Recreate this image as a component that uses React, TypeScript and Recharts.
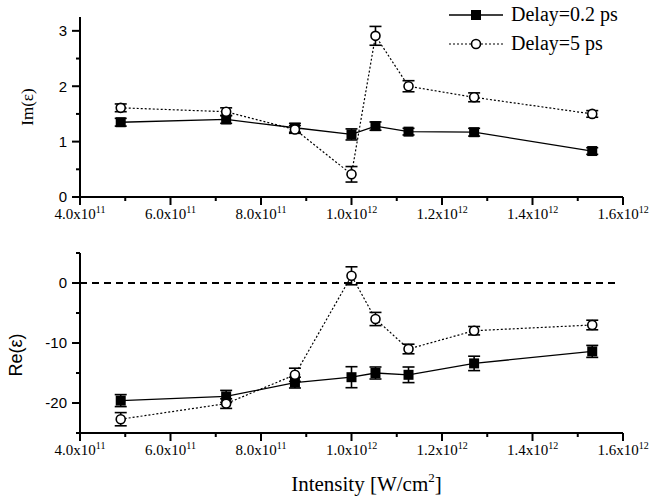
import {
  LineChart,
  Line,
  XAxis,
  YAxis,
  ErrorBar,
  ReferenceLine,
  Legend,
} from 'recharts'

const intensity = [4.9e11, 7.23e11, 8.75e11, 1.0e12, 1.053e12, 1.126e12, 1.271e12, 1.532e12]

const imShort = [1.35, 1.4, 1.25, 1.13, 1.28, 1.18, 1.17, 0.83]
const imShortErr = [0.07, 0.07, 0.08, 0.1, 0.075, 0.06, 0.07, 0.06]
const imLong = [1.61, 1.54, 1.22, 0.41, 2.91, 2.0, 1.8, 1.5]
const imLongErr = [0.07, 0.07, 0.07, 0.14, 0.17, 0.1, 0.08, 0.06]

const reShort = [-19.6, -18.9, -16.6, -15.7, -15.0, -15.3, -13.4, -11.4]
const reShortErr = [1.0, 1.0, 0.9, 1.75, 1.0, 1.3, 1.2, 1.0]
const reLong = [-22.7, -20.1, -15.3, 1.2, -6.0, -11.0, -7.95, -7.0]
const reLongErr = [1.1, 0.8, 1.1, 1.5, 1.1, 0.8, 0.7, 0.8]

const xTicks = [4e11, 5e11, 6e11, 7e11, 8e11, 9e11, 1e12, 1.1e12, 1.2e12, 1.3e12, 1.4e12, 1.5e12, 1.6e12]
const imTicks = [0, 0.5, 1, 1.5, 2, 2.5, 3]
const reTicks = [-25, -20, -15, -10, -5, 0, 5]

const legendItems = ['Delay=0.2 ps', 'Delay=5 ps']

// zero line in the Re panel stops a little short of the axis end
const zeroLineEnd = 1.587e12

const imData = intensity.map((x, i) => ({
  x,
  short: imShort[i],
  shortErr: imShortErr[i],
  long: imLong[i],
  longErr: imLongErr[i],
}))

const reData = intensity.map((x, i) => ({
  x,
  short: reShort[i],
  shortErr: reShortErr[i],
  long: reLong[i],
  longErr: reLongErr[i],
}))

const SERIF = '"Liberation Serif", "Times New Roman", serif'
const SANS = '"Liberation Sans", Arial, sans-serif'

function XTick(props: any) {
  const { x, y, payload } = props
  const v = payload.value as number
  const major = Math.round(v / 1e11) % 2 === 0
  const exp = Math.floor(Math.log10(v) + 1e-9)
  const mant = (v / Math.pow(10, exp)).toFixed(1)
  return (
    <g>
      <line x1={x} y1={y} x2={x} y2={y + (major ? 8 : 4)} stroke="#000" strokeWidth={2} />
      {major && (
        <text x={x} y={y + 22} textAnchor="middle" fontFamily={SERIF} fontSize={15} fill="#000">
          {mant}x10
          <tspan dy={-6} fontSize={10}>
            {exp}
          </tspan>
        </text>
      )}
    </g>
  )
}

function makeYTick(step: number) {
  return function YTick(props: any) {
    const { x, y, payload } = props
    const v = payload.value as number
    const major = Math.abs(v / step - Math.round(v / step)) < 1e-6
    return (
      <g>
        <line x1={x} y1={y} x2={x - (major ? 8 : 4)} y2={y} stroke="#000" strokeWidth={2} />
        {major && (
          <text x={x - 13} y={y} dy="0.36em" textAnchor="end" fontFamily={SANS} fontSize={15} fill="#000">
            {v}
          </text>
        )}
      </g>
    )
  }
}

const ImTick = makeYTick(1)
const ReTick = makeYTick(10)

function SquareDot(props: any) {
  const { cx, cy, index } = props
  if (cx == null || cy == null) return <g key={`s-${index}`} />
  return <rect key={`s-${index}`} x={cx - 5} y={cy - 5} width={10} height={10} fill="#000" />
}

function CircleDot(props: any) {
  const { cx, cy, index } = props
  if (cx == null || cy == null) return <g key={`c-${index}`} />
  return <circle key={`c-${index}`} cx={cx} cy={cy} r={4.5} fill="#fff" stroke="#000" strokeWidth={1.6} />
}

function YLabel(props: any) {
  const { viewBox, text, font, size, dx = 0, dy = 0 } = props
  const cx = viewBox.x + dx
  const cy = viewBox.y + viewBox.height / 2 + dy
  return (
    <text
      x={cx}
      y={cy}
      transform={`rotate(-90, ${cx}, ${cy})`}
      textAnchor="middle"
      dominantBaseline="central"
      fontFamily={font}
      fontSize={size}
      fill="#000"
    >
      {text}
    </text>
  )
}

function XLabel(props: any) {
  const { viewBox } = props
  const cx = viewBox.x + viewBox.width / 2 + 15
  const by = viewBox.y + 58
  return (
    <text x={cx} y={by} textAnchor="middle" fontFamily={SERIF} fontSize={21} fill="#000">
      Intensity [W/cm
      <tspan dy={-9} fontSize={13}>
        2
      </tspan>
      <tspan dy={9}>]</tspan>
    </text>
  )
}

function LegendBox() {
  return (
    <div style={{ fontFamily: SERIF, fontSize: 20, color: '#000' }}>
      {legendItems.map((name, i) => (
        <div key={name} style={{ display: 'flex', alignItems: 'center', height: 29 }}>
          <svg width={56} height={14} style={{ marginRight: 7 }}>
            <line
              x1={1}
              y1={7}
              x2={55}
              y2={7}
              stroke="#000"
              strokeWidth={i === 0 ? 1.3 : 1.2}
              strokeDasharray={i === 0 ? undefined : '2 2'}
            />
            {i === 0 ? (
              <rect x={23} y={2} width={10} height={10} fill="#000" />
            ) : (
              <circle cx={28} cy={7} r={4.5} fill="#fff" stroke="#000" strokeWidth={1.6} />
            )}
          </svg>
          <span>{name}</span>
        </div>
      ))}
    </div>
  )
}

const axisLine = { stroke: '#000', strokeWidth: 2 }

export default function App() {
  return (
    <div style={{ width: 649, height: 499, background: '#fff', position: 'relative' }}>
      <style>{'body{margin:0}'}</style>
      <LineChart width={649} height={230} data={imData} margin={{ top: 17, right: 26, bottom: 0, left: 0 }}>
        <XAxis
          dataKey="x"
          type="number"
          domain={[4e11, 1.6e12]}
          ticks={xTicks}
          interval={0}
          height={33}
          axisLine={axisLine}
          tickLine={false}
          tickSize={0}
          tickMargin={0}
          tick={<XTick />}
          allowDataOverflow
        />
        <YAxis
          type="number"
          domain={[0, 3.25]}
          ticks={imTicks}
          interval={0}
          width={80}
          axisLine={axisLine}
          tickLine={false}
          tickSize={0}
          tickMargin={0}
          tick={<ImTick />}
          allowDataOverflow
          label={<YLabel text="Im(ε)" font={SERIF} size={17} dx={27} dy={0} />}
        />
        <Legend
          layout="vertical"
          align="center"
          verticalAlign="middle"
          content={<LegendBox />}
          wrapperStyle={{ position: 'absolute', top: 0, left: 448, width: 200, height: 60 }}
        />
        <Line
          dataKey="short"
          stroke="#000"
          strokeWidth={1.3}
          dot={<SquareDot />}
          activeDot={false}
          isAnimationActive={false}
        >
          <ErrorBar dataKey="shortErr" width={6} stroke="#000" strokeWidth={1.6} direction="y" isAnimationActive={false} />
        </Line>
        <Line
          dataKey="long"
          stroke="#000"
          strokeWidth={1.2}
          strokeDasharray="2 2"
          dot={<CircleDot />}
          activeDot={false}
          isAnimationActive={false}
        >
          <ErrorBar dataKey="longErr" width={6} stroke="#000" strokeWidth={1.6} direction="y" isAnimationActive={false} />
        </Line>
      </LineChart>
      <LineChart width={649} height={269} data={reData} margin={{ top: 23, right: 26, bottom: 0, left: 0 }}>
        <XAxis
          dataKey="x"
          type="number"
          domain={[4e11, 1.6e12]}
          ticks={xTicks}
          interval={0}
          height={66}
          axisLine={axisLine}
          tickLine={false}
          tickSize={0}
          tickMargin={0}
          tick={<XTick />}
          allowDataOverflow
          label={<XLabel />}
        />
        <YAxis
          type="number"
          domain={[-25, 5]}
          ticks={reTicks}
          interval={0}
          width={80}
          axisLine={axisLine}
          tickLine={false}
          tickSize={0}
          tickMargin={0}
          tick={<ReTick />}
          allowDataOverflow
          label={<YLabel text="Re(ε)" font={SANS} size={18} dx={16} dy={12} />}
        />
        <ReferenceLine
          segment={[
            { x: 4e11, y: 0 },
            { x: zeroLineEnd, y: 0 },
          ]}
          stroke="#000"
          strokeWidth={1.8}
          strokeDasharray="7 5"
        />
        <Line
          dataKey="short"
          stroke="#000"
          strokeWidth={1.3}
          dot={<SquareDot />}
          activeDot={false}
          isAnimationActive={false}
        >
          <ErrorBar dataKey="shortErr" width={6} stroke="#000" strokeWidth={1.6} direction="y" isAnimationActive={false} />
        </Line>
        <Line
          dataKey="long"
          stroke="#000"
          strokeWidth={1.2}
          strokeDasharray="2 2"
          dot={<CircleDot />}
          activeDot={false}
          isAnimationActive={false}
        >
          <ErrorBar dataKey="longErr" width={6} stroke="#000" strokeWidth={1.6} direction="y" isAnimationActive={false} />
        </Line>
      </LineChart>
    </div>
  )
}
